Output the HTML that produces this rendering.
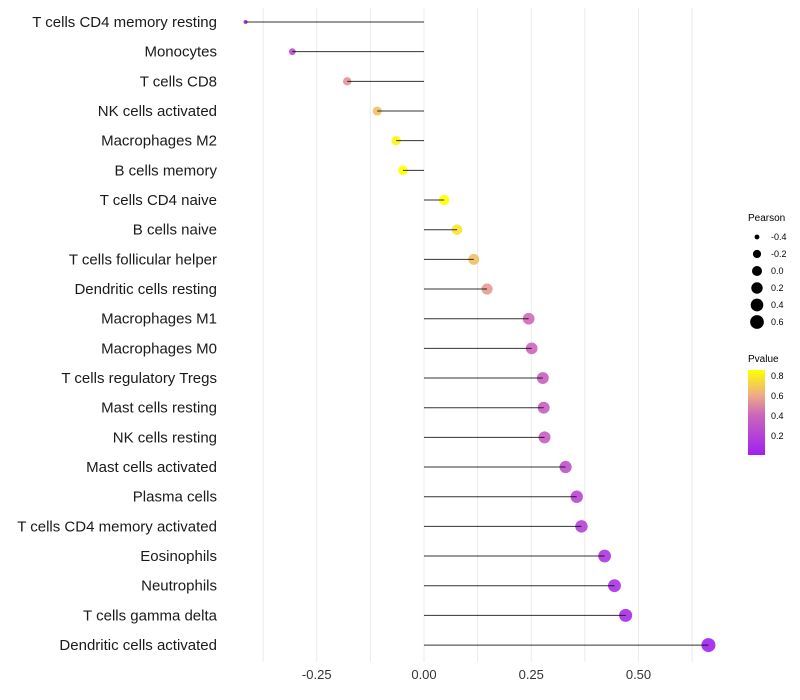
<!DOCTYPE html>
<html><head><meta charset="utf-8"><style>
body{margin:0;background:#fff;font-family:"Liberation Sans",sans-serif}
svg{display:block}
</style></head><body>
<svg id="chart" width="800" height="700">
<defs><linearGradient id="pgrad" x1="0" y1="1" x2="0" y2="0">
<stop offset="0" stop-color="#a020f0"/><stop offset="0.47" stop-color="#cc66bb"/><stop offset="0.7" stop-color="#eeaa88"/><stop offset="1" stop-color="#ffff00"/></linearGradient></defs>
<g id="grid"></g><g id="marks"></g><g id="ylabels"></g><g id="xticks"></g>
<g font-size="10" fill="#000">
<text x="748" y="221">Pearson</text>
<g id="sizeleg"></g>
</g>
<g font-size="10">
<text x="748" y="362">Pvalue</text>
<rect x="748" y="370" width="17" height="85" fill="url(#pgrad)"/>
<text x="771" y="379" font-size="9">0.8</text>
<text x="771" y="399" font-size="9">0.6</text>
<text x="771" y="419" font-size="9">0.4</text>
<text x="771" y="439" font-size="9">0.2</text>
</g>
</svg>
<script>
const cells=["T cells CD4 memory resting","Monocytes","T cells CD8","NK cells activated","Macrophages M2","B cells memory","T cells CD4 naive","B cells naive","T cells follicular helper","Dendritic cells resting","Macrophages M1","Macrophages M0","T cells regulatory  Tregs ","Mast cells resting","NK cells resting","Mast cells activated","Plasma cells","T cells CD4 memory activated","Eosinophils","Neutrophils","T cells gamma delta","Dendritic cells activated"];
const pearson=[-0.416,-0.307,-0.179,-0.109,-0.065,-0.049,0.047,0.077,0.116,0.147,0.244,0.251,0.277,0.279,0.281,0.330,0.356,0.367,0.421,0.444,0.470,0.663];
const pvalue=[0.05,0.25,0.53,0.66,0.82,0.86,0.86,0.77,0.66,0.55,0.41,0.4,0.36,0.35,0.35,0.28,0.21,0.2,0.12,0.1,0.06,0.01];
const xTicks=[-0.25,0,0.25,0.5];
const xTickLabels=["-0.25","0.00","0.25","0.50"];
const sizeLegend=[-0.4,-0.2,0,0.2,0.4,0.6];
const NS="http://www.w3.org/2000/svg";
const x=v=>424+v*429;
const y=i=>22+i*29.67;
const r=v=>1.7+5.3*Math.sqrt(Math.max(0,(v+0.42)/1.08));
function col(p){const t=Math.min(p/0.85,1);const st=[[0,[160,32,240]],[0.47,[204,102,187]],[0.7,[238,170,136]],[1,[255,255,0]]];
for(let k=1;k<st.length;k++){if(t<=st[k][0]){const a=st[k-1],b=st[k],f=(t-a[0])/(b[0]-a[0]);return `rgb(${a[1].map((c,j)=>Math.round(c+(b[1][j]-c)*f)).join(',')})`;}}return 'rgb(255,255,0)';}
function mk(tag,at,parent){const e=document.createElementNS(NS,tag);for(const k in at)e.setAttribute(k,at[k]);parent.appendChild(e);return e;}
const grid=document.getElementById('grid'),marks=document.getElementById('marks'),yl=document.getElementById('ylabels'),xt=document.getElementById('xticks');
for(let v=-0.375;v<=0.626;v+=0.125){const g=mk('line',{x1:x(v),x2:x(v),y1:8,y2:662,stroke:'#ebebeb','stroke-width':1},grid);

}
xTicks.forEach((v,i)=>{const t=mk('text',{x:x(v),y:679,'text-anchor':'middle','font-size':13,fill:'#333'},xt);t.textContent=xTickLabels[i];

});
cells.forEach((c,i)=>{
const t=mk('text',{x:217,y:y(i)+5,'text-anchor':'end','font-size':15,fill:'#1a1a1a'},yl);t.textContent=c;


const d=mk('circle',{cx:x(pearson[i]),cy:y(i),r:r(pearson[i]),fill:col(pvalue[i]),'fill-opacity':0.9},marks);


const l=mk('line',{x1:x(0),x2:x(pearson[i]),y1:y(i),y2:y(i),stroke:'#000','stroke-width':1,'stroke-opacity':0.8},marks);


});
const sl=document.getElementById('sizeleg');
sizeLegend.forEach((v,i)=>{const yy=237+i*17;
const c=mk('circle',{cx:757,cy:yy,r:r(v),fill:'#000'},sl);


const t=mk('text',{x:771,y:yy+3,'font-size':9},sl);t.textContent=v.toFixed(1);

});
</script>
</body></html>
